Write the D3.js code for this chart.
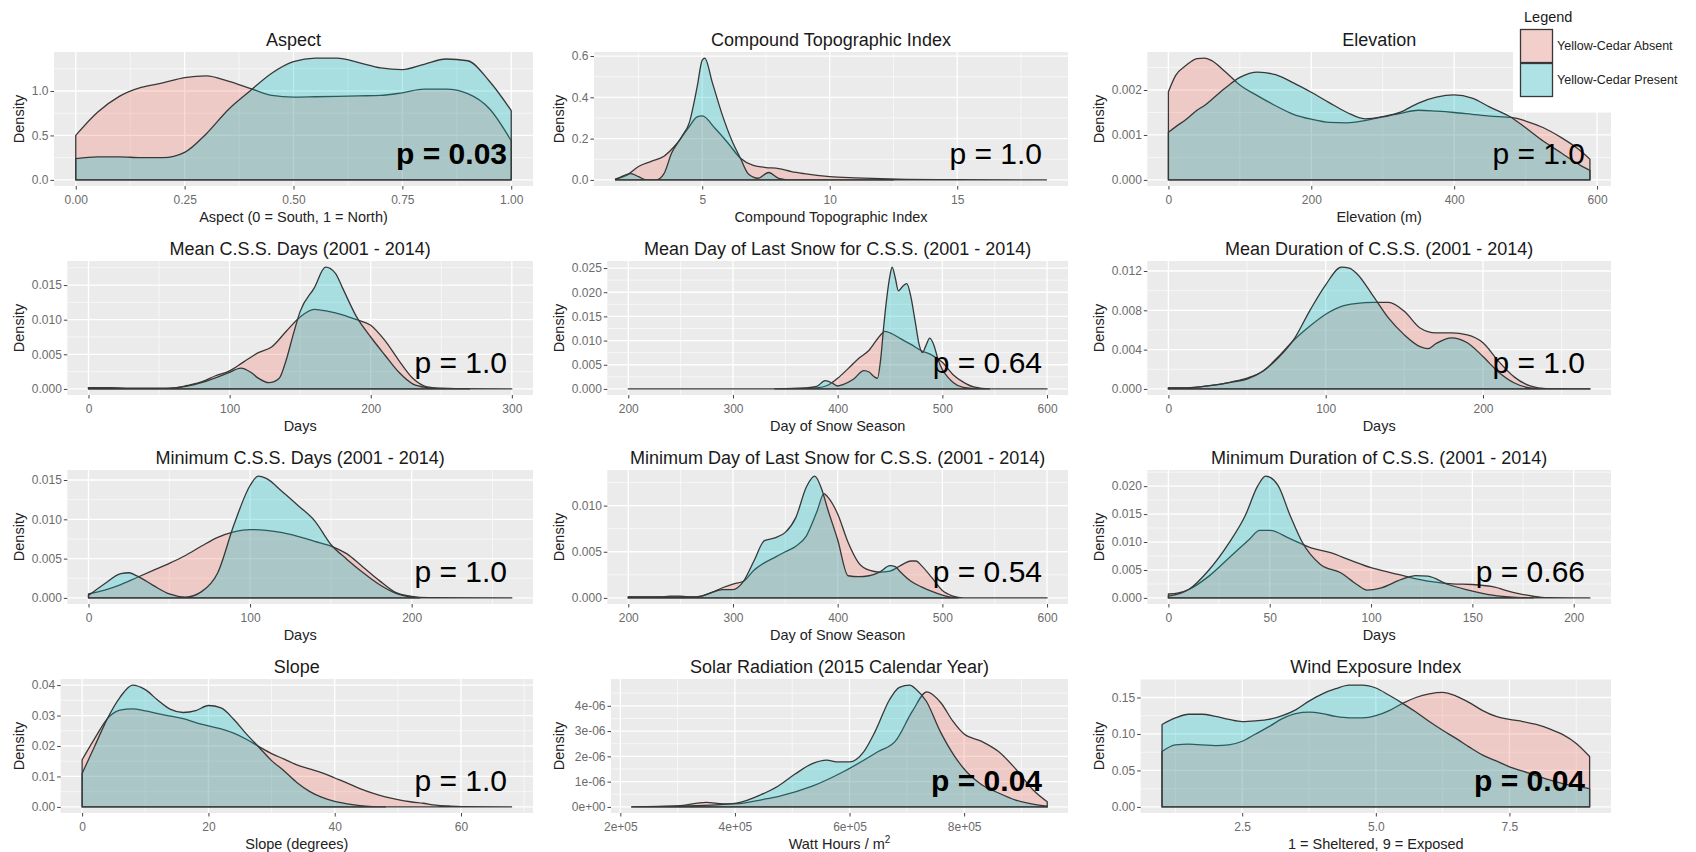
<!DOCTYPE html>
<html><head><meta charset="utf-8">
<script src="https://cdn.jsdelivr.net/npm/d3@7"></script>
<style>
body{margin:0;background:#fff;}
svg{display:block;font-family:"Liberation Sans",Arial,sans-serif;}
</style>
</head><body>
<svg id="chart" width="1696" height="852"></svg>
<script>
// ---------------- DATA ----------------
const panelTitles = ["Aspect","Compound Topographic Index","Elevation",
  "Mean C.S.S. Days (2001 - 2014)","Mean Day of Last Snow for C.S.S. (2001 - 2014)","Mean Duration of C.S.S. (2001 - 2014)",
  "Minimum C.S.S. Days (2001 - 2014)","Minimum Day of Last Snow for C.S.S. (2001 - 2014)","Minimum Duration of C.S.S. (2001 - 2014)",
  "Slope","Solar Radiation (2015 Calendar Year)","Wind Exposure Index"];
const xTitles = ["Aspect (0 = South, 1 = North)","Compound Topographic Index","Elevation (m)",
  "Days","Day of Snow Season","Days","Days","Day of Snow Season","Days",
  "Slope (degrees)","Watt Hours / m|2","1 = Sheltered, 9 = Exposed"];
const pTexts = ["p = 0.03","p = 1.0","p = 1.0","p = 1.0","p = 0.64","p = 1.0","p = 1.0","p = 0.54","p = 0.66","p = 1.0","p = 0.04","p = 0.04"];
const pBold = [true,false,false,false,false,false,false,false,false,false,true,true];
const seriesNames = ["Yellow-Cedar Absent","Yellow-Cedar Present"];
const legendTitle = "Legend";

// Aspect
const aspX = [0,0.05,0.1,0.15,0.2,0.25,0.3,0.35,0.4,0.45,0.5,0.55,0.6,0.65,0.7,0.75,0.8,0.85,0.9,0.95,1.0];
const aspAbsent = [0.50,0.76,0.94,1.04,1.09,1.15,1.17,1.11,1.03,0.95,0.93,0.935,0.94,0.945,0.95,0.98,1.02,1.02,0.97,0.80,0.44];
const aspPresent = [0.24,0.26,0.26,0.25,0.25,0.31,0.52,0.79,1.00,1.20,1.33,1.37,1.37,1.32,1.26,1.24,1.30,1.36,1.34,1.11,0.78];
const aspXTicks = [0,0.25,0.5,0.75,1], aspXLabels = ["0.00","0.25","0.50","0.75","1.00"];
const aspYTicks = [0,0.5,1], aspYLabels = ["0.0","0.5","1.0"];

// Compound Topographic Index
const ctiAbsX = [1.6,2,2.5,3,3.5,4,4.5,4.8,5,5.5,6,6.5,7,7.5,8,8.5,9,10,11,12,13,15,18.5];
const ctiAbsent = [0.005,0.02,0.065,0.09,0.115,0.175,0.26,0.305,0.31,0.25,0.18,0.105,0.07,0.06,0.055,0.04,0.03,0.016,0.01,0.006,0.003,0.001,0];
const ctiPreX = [1.6,1.9,2.2,2.5,2.8,3.2,3.5,3.8,4.2,4.5,4.8,5,5.1,5.4,5.8,6.2,6.5,6.8,7.2,7.6,8,8.5,12.5];
const ctiPresent = [0,0.02,0.03,0.016,0,0,0.03,0.13,0.21,0.28,0.45,0.58,0.59,0.47,0.31,0.18,0.105,0.03,0.008,0.036,0.008,0,0];
const ctiXTicks = [5,10,15], ctiXLabels = ["5","10","15"];
const ctiYTicks = [0,0.2,0.4,0.6], ctiYLabels = ["0.0","0.2","0.4","0.6"];

// Elevation
const elevX = [0,10,25,40,50,60,80,100,125,150,175,200,225,250,275,300,325,350,375,400,425,450,480,500,525,550,575,590];
const elevAbsent = [0.00196,0.00232,0.00255,0.0027,0.00271,0.00266,0.0024,0.00211,0.00187,0.00165,0.00146,0.00135,0.00128,0.00127,0.00132,0.0014,0.00148,0.00155,0.00153,0.0015,0.00146,0.00142,0.00139,0.00131,0.00116,0.00094,0.00067,0.00046];
const elevPresent = [0.00106,0.00118,0.00135,0.00155,0.00165,0.00178,0.00205,0.00228,0.0024,0.00234,0.00216,0.00195,0.00172,0.0015,0.00136,0.00141,0.00151,0.00171,0.00184,0.00189,0.00182,0.00162,0.00139,0.00116,0.00086,0.0006,0.00034,0.00021];
const elevXTicks = [0,200,400,600], elevXLabels = ["0","200","400","600"];
const elevYTicks = [0,0.001,0.002], elevYLabels = ["0.000","0.001","0.002"];

// Mean C.S.S. Days
const mcdAbsX = [0,15,30,50,60,70,80,90,100,110,120,130,140,150,160,170,180,190,200,210,220,230,240,250,260,300];
const mcdAbsent = [0.0002,0.0002,0.0001,0.0001,0.00015,0.0005,0.001,0.0019,0.0026,0.0039,0.0052,0.0061,0.0083,0.0104,0.0115,0.0112,0.0107,0.0100,0.0092,0.0070,0.0041,0.0015,0.0003,0.0001,0.00003,0];
const mcdPreX = [0,15,20,55,60,70,80,90,100,108,115,120,128,135,140,145,150,160,168,175,180,190,200,210,220,230,240,250,270];
const mcdPresent = [0.0002,0.0002,0,0,0.0001,0.0004,0.0009,0.0016,0.0024,0.0030,0.0024,0.0016,0.0009,0.0015,0.0041,0.0078,0.0112,0.0146,0.0176,0.0167,0.0146,0.0104,0.0075,0.0049,0.0024,0.0007,0.0002,0.00005,0];
const mcdXTicks = [0,100,200,300], mcdXLabels = ["0","100","200","300"];
const mcdYTicks = [0,0.005,0.01,0.015], mcdYLabels = ["0.000","0.005","0.010","0.015"];

// Mean Day of Last Snow
const mdlAbsX = [200,340,370,380,390,400,410,420,430,440,445,450,460,470,480,490,500,510,520,530,545,600];
const mdlAbsent = [0,0,0.0001,0.0002,0.0007,0.0022,0.0042,0.0063,0.008,0.0109,0.0119,0.0116,0.0104,0.0092,0.0079,0.0070,0.0055,0.003,0.0014,0.0004,0,0];
const mdlPreX = [340,370,380,388,395,400,405,415,425,430,435,438,441,444,447,450,452,455,458,462,466,470,474,478,481,484,488,492,496,500,505,510,520,530,545];
const mdlPresent = [0,0.0002,0.0005,0.0017,0.0012,0.0006,0.0009,0.002,0.0038,0.0035,0.0025,0.0022,0.006,0.013,0.019,0.0235,0.0252,0.023,0.0203,0.0212,0.0218,0.019,0.014,0.009,0.0075,0.0088,0.0105,0.009,0.006,0.004,0.0025,0.0014,0.0003,0.0001,0];
const mdlXTicks = [200,300,400,500,600], mdlXLabels = ["200","300","400","500","600"];
const mdlYTicks = [0,0.005,0.01,0.015,0.02,0.025], mdlYLabels = ["0.000","0.005","0.010","0.015","0.020","0.025"];

// Mean Duration of C.S.S.
const mduAbsX = [0,10,20,30,40,50,60,70,80,90,100,110,120,130,140,150,160,170,180,190,200,210,220,230,240,268];
const mduAbsent = [0.0001,0.0001,0.0002,0.0004,0.0007,0.0011,0.0018,0.0033,0.005,0.0064,0.0076,0.0084,0.0087,0.0088,0.0088,0.0079,0.0062,0.0057,0.0057,0.0055,0.0047,0.0028,0.0012,0.0003,0.00002,0];
const mduPreX = [0,10,20,30,40,50,60,70,80,90,100,110,115,120,130,140,150,160,165,170,180,190,200,210,220,230,240,268];
const mduPresent = [0.0001,0.0001,0.0002,0.0004,0.0007,0.001,0.0018,0.0032,0.0051,0.0080,0.0106,0.0124,0.0123,0.0117,0.0095,0.0072,0.0055,0.0043,0.0041,0.0046,0.0052,0.0047,0.0033,0.0017,0.0006,0.0001,0,0];
const mduXTicks = [0,100,200], mduXLabels = ["0","100","200"];
const mduYTicks = [0,0.004,0.008,0.012], mduYLabels = ["0.000","0.004","0.008","0.012"];

// Minimum C.S.S. Days
const mcsAbsX = [0,10,20,30,40,50,60,70,80,90,100,110,120,130,140,150,160,170,180,190,200,210,262];
const mcsAbsent = [0.0005,0.0010,0.0017,0.0026,0.0035,0.0044,0.0054,0.0066,0.0077,0.0084,0.0087,0.0086,0.0083,0.0078,0.0072,0.0066,0.0056,0.0039,0.0022,0.0007,0.0002,0.00003,0];
const mcsPreX = [0,10,20,25,30,40,50,60,70,80,90,100,105,110,120,130,140,150,160,170,180,190,200,205];
const mcsPresent = [0.0003,0.0018,0.0031,0.0032,0.0028,0.0016,0.0005,0.0001,0.0008,0.0032,0.0093,0.0143,0.0155,0.0152,0.0135,0.0117,0.0098,0.0068,0.0049,0.0032,0.0017,0.0006,0.0001,0];
const mcsXTicks = [0,100,200], mcsXLabels = ["0","100","200"];
const mcsYTicks = [0,0.005,0.01,0.015], mcsYLabels = ["0.000","0.005","0.010","0.015"];

// Minimum Day of Last Snow
const mdsAbsX = [200,230,240,250,260,270,280,290,300,310,320,330,340,350,360,370,380,387,390,400,410,420,430,440,450,460,470,475,480,490,500,510,520,600];
const mdsAbsent = [0.0001,0.0001,0.0002,0.0002,0.0001,0.0002,0.0006,0.0011,0.0015,0.0018,0.0030,0.0038,0.0044,0.0050,0.0056,0.0067,0.0093,0.0113,0.0110,0.0091,0.0060,0.0038,0.0030,0.0028,0.0029,0.0035,0.0040,0.0040,0.0035,0.0022,0.0008,0.0002,0,0];
const mdsPreX = [200,260,270,280,290,300,310,320,330,340,350,360,370,378,385,390,400,410,420,430,440,450,455,460,470,480,490,500,510,515];
const mdsPresent = [0.0001,0.0001,0.0002,0.0006,0.0009,0.0009,0.0018,0.0040,0.0062,0.0065,0.0071,0.0087,0.0120,0.0132,0.0117,0.0098,0.0063,0.0024,0.0023,0.0024,0.0028,0.0035,0.0034,0.0028,0.0018,0.0012,0.0007,0.0003,0.00005,0];
const mdsXTicks = [200,300,400,500,600], mdsXLabels = ["200","300","400","500","600"];
const mdsYTicks = [0,0.005,0.01], mdsYLabels = ["0.000","0.005","0.010"];

// Minimum Duration of C.S.S.
const mndAbsX = [0,5,10,20,30,40,45,50,60,70,80,90,100,110,120,130,140,150,160,170,180,187,208];
const mndAbsent = [0.0007,0.0009,0.0015,0.0039,0.0072,0.0105,0.0121,0.0121,0.0106,0.0090,0.0081,0.0067,0.0054,0.0045,0.0036,0.0029,0.0025,0.0024,0.0020,0.0010,0.0003,0.00005,0];
const mndPreX = [0,10,20,30,38,44,48,54,60,66,75,85,93,98,105,115,122,128,138,148,158,168,180];
const mndPresent = [0.0003,0.0015,0.0050,0.0099,0.0148,0.0200,0.0218,0.0202,0.0148,0.0100,0.0060,0.0045,0.0024,0.0014,0.0018,0.0033,0.0040,0.0039,0.0024,0.0014,0.0006,0.0002,0];
const mndXTicks = [0,50,100,150,200], mndXLabels = ["0","50","100","150","200"];
const mndYTicks = [0,0.005,0.01,0.015,0.02], mndYLabels = ["0.000","0.005","0.010","0.015","0.020"];

// Slope
const slpAbsX = [0,2,4,6,8,10,12,14,16,18,20,22,24,26,28,30,32,34,36,38,40,42,44,46,48,50,52,54,56,58,60,68];
const slpAbsent = [0.0155,0.0225,0.029,0.0318,0.0322,0.0315,0.0306,0.0298,0.029,0.0277,0.0266,0.0256,0.0242,0.0222,0.0198,0.0175,0.0157,0.0138,0.0125,0.0112,0.0095,0.0078,0.006,0.0045,0.0033,0.0024,0.0017,0.0012,0.0006,0.0003,0.0001,0];
const slpPreX = [0,2,4,6,8,10,12,14,16,18,20,22,24,26,28,30,32,34,36,38,40,42,44,46,48];
const slpPresent = [0.011,0.020,0.029,0.036,0.040,0.0385,0.035,0.032,0.031,0.0316,0.0333,0.0325,0.0288,0.024,0.0196,0.0152,0.0118,0.008,0.0051,0.0031,0.0018,0.001,0.0004,0.0001,0];
const slpXTicks = [0,20,40,60], slpXLabels = ["0","20","40","60"];
const slpYTicks = [0,0.01,0.02,0.03,0.04], slpYLabels = ["0.00","0.01","0.02","0.03","0.04"];

// Solar Radiation
const solAbsX = [2.2e5,3.0e5,3.5e5,3.8e5,4.0e5,4.5e5,4.75e5,5.35e5,5.9e5,6.5e5,6.8e5,7.1e5,7.35e5,7.6e5,7.8e5,8.0e5,8.3e5,8.6e5,8.9e5,9.2e5,9.45e5];
const solAbsent = [0,0.04e-6,0.18e-6,0.12e-6,0.12e-6,0.3e-6,0.41e-6,0.82e-6,1.4e-6,2.19e-6,2.6e-6,3.8e-6,4.55e-6,4.1e-6,3.4e-6,2.88e-6,2.6e-6,2.19e-6,1.5e-6,0.68e-6,0.2e-6];
const solPreX = [2.2e5,3.6e5,4.05e5,4.45e5,4.75e5,5.05e5,5.35e5,5.6e5,5.8e5,6.0e5,6.25e5,6.45e5,6.7e5,6.87e5,7.05e5,7.16e5,7.34e5,7.58e5,7.82e5,8.05e5,8.3e5,8.6e5,8.9e5,9.2e5,9.45e5];
const solPresent = [0,0.07e-6,0.16e-6,0.48e-6,0.82e-6,1.3e-6,1.71e-6,1.85e-6,1.78e-6,1.78e-6,2.19e-6,3.0e-6,4.25e-6,4.73e-6,4.82e-6,4.66e-6,4.18e-6,3.0e-6,2.05e-6,1.37e-6,0.89e-6,0.55e-6,0.27e-6,0.11e-6,0.03e-6];
const solXTicks = [2e5,4e5,6e5,8e5], solXLabels = ["2e+05","4e+05","6e+05","8e+05"];
const solYTicks = [0,1e-6,2e-6,3e-6,4e-6], solYLabels = ["0e+00","1e-06","2e-06","3e-06","4e-06"];

// Wind Exposure Index
const windX = [1,1.25,1.5,1.75,2,2.25,2.5,2.75,3,3.25,3.5,3.75,4,4.25,4.5,4.75,5,5.25,5.5,5.75,6,6.25,6.5,6.75,7,7.25,7.5,7.75,8,8.25,8.5,8.75,9];
const windAbsent = [0.076,0.085,0.086,0.085,0.084,0.085,0.09,0.10,0.11,0.121,0.128,0.13,0.128,0.124,0.122,0.122,0.125,0.132,0.142,0.15,0.155,0.157,0.152,0.143,0.132,0.124,0.12,0.117,0.113,0.107,0.099,0.087,0.069];
const windPresent = [0.113,0.122,0.127,0.127,0.124,0.12,0.117,0.118,0.12,0.125,0.133,0.145,0.155,0.162,0.167,0.167,0.163,0.153,0.142,0.13,0.117,0.105,0.094,0.082,0.071,0.063,0.055,0.049,0.043,0.037,0.032,0.028,0.025];
const windXTicks = [2.5,5,7.5], windXLabels = ["2.5","5.0","7.5"];
const windYTicks = [0,0.05,0.1,0.15], windYLabels = ["0.00","0.05","0.10","0.15"];

// ---------------- PANEL TABLE ----------------
const panels = [
  {ax:aspX, a:aspAbsent, px:aspX, p:aspPresent, xt:aspXTicks, xl:aspXLabels, yt:aspYTicks, yl:aspYLabels},
  {ax:ctiAbsX, a:ctiAbsent, px:ctiPreX, p:ctiPresent, xt:ctiXTicks, xl:ctiXLabels, yt:ctiYTicks, yl:ctiYLabels},
  {ax:elevX, a:elevAbsent, px:elevX, p:elevPresent, xt:elevXTicks, xl:elevXLabels, yt:elevYTicks, yl:elevYLabels},
  {ax:mcdAbsX, a:mcdAbsent, px:mcdPreX, p:mcdPresent, xt:mcdXTicks, xl:mcdXLabels, yt:mcdYTicks, yl:mcdYLabels},
  {ax:mdlAbsX, a:mdlAbsent, px:mdlPreX, p:mdlPresent, xt:mdlXTicks, xl:mdlXLabels, yt:mdlYTicks, yl:mdlYLabels},
  {ax:mduAbsX, a:mduAbsent, px:mduPreX, p:mduPresent, xt:mduXTicks, xl:mduXLabels, yt:mduYTicks, yl:mduYLabels},
  {ax:mcsAbsX, a:mcsAbsent, px:mcsPreX, p:mcsPresent, xt:mcsXTicks, xl:mcsXLabels, yt:mcsYTicks, yl:mcsYLabels},
  {ax:mdsAbsX, a:mdsAbsent, px:mdsPreX, p:mdsPresent, xt:mdsXTicks, xl:mdsXLabels, yt:mdsYTicks, yl:mdsYLabels},
  {ax:mndAbsX, a:mndAbsent, px:mndPreX, p:mndPresent, xt:mndXTicks, xl:mndXLabels, yt:mndYTicks, yl:mndYLabels},
  {ax:slpAbsX, a:slpAbsent, px:slpPreX, p:slpPresent, xt:slpXTicks, xl:slpXLabels, yt:slpYTicks, yl:slpYLabels},
  {ax:solAbsX, a:solAbsent, px:solPreX, p:solPresent, xt:solXTicks, xl:solXLabels, yt:solYTicks, yl:solYLabels},
  {ax:windX, a:windAbsent, px:windX, p:windPresent, xt:windXTicks, xl:windXLabels, yt:windYTicks, yl:windYLabels}
];

// ---------------- LAYOUT / STYLE ----------------
const FONT = '"Liberation Sans", Arial, sans-serif';
const colCellLeft = [0, 540, 1080];
const colRight = [533, 1068, 1611];
const rowTop = [52, 261, 470, 679];
const panelH = 134;
const fillColors = ["#F8766D", "#00BFC4"];
const fillAlpha = 0.28;
const outline = "#383838";

const svg = d3.select("#chart");
svg.append("rect").attr("width",1696).attr("height",852).attr("fill","#fff");

const meas = svg.append("text").attr("font-size",12).style("font-family",FONT);
function tw(s){ meas.text(s); return meas.node().getComputedTextLength(); }

function minorBreaks(ticks, dom){
  const out = [];
  const step = ticks.length>1 ? ticks[1]-ticks[0] : 0;
  const all = [ticks[0]-step/2];
  for (let i=0;i<ticks.length-1;i++) all.push((ticks[i]+ticks[i+1])/2);
  all.push(ticks[ticks.length-1]+step/2);
  all.forEach(v => { if (v>dom[0] && v<dom[1]) out.push(v); });
  return out;
}

panels.forEach((P, i) => {
  const col = i % 3, row = Math.floor(i / 3);
  const top = rowTop[row], bottom = top + panelH;
  const labW = d3.max(P.yl, s => tw(s));
  const left = colCellLeft[col] + 31.8 + labW + 5.5;
  const right = colRight[col];

  const allX = P.ax.concat(P.px);
  const xmin = d3.min(allX), xmax = d3.max(allX);
  const xpad = 0.05 * (xmax - xmin);
  const x = d3.scaleLinear().domain([xmin - xpad, xmax + xpad]).range([left, right]);
  const ymax = d3.max(P.a.concat(P.p));
  const y = d3.scaleLinear().domain([-0.05 * ymax, 1.05 * ymax]).range([bottom, top]);

  const g = svg.append("g");
  g.append("rect").attr("x",left).attr("y",top).attr("width",right-left).attr("height",panelH).attr("fill","#EBEBEB");

  minorBreaks(P.xt, x.domain()).forEach(v => g.append("line").attr("x1",x(v)).attr("x2",x(v)).attr("y1",top).attr("y2",bottom).attr("stroke","#fff").attr("stroke-width",0.6));
  minorBreaks(P.yt, y.domain()).forEach(v => g.append("line").attr("x1",left).attr("x2",right).attr("y1",y(v)).attr("y2",y(v)).attr("stroke","#fff").attr("stroke-width",0.6));
  P.xt.forEach(v => g.append("line").attr("x1",x(v)).attr("x2",x(v)).attr("y1",top).attr("y2",bottom).attr("stroke","#fff").attr("stroke-width",1.3));
  P.yt.forEach(v => g.append("line").attr("x1",left).attr("x2",right).attr("y1",y(v)).attr("y2",y(v)).attr("stroke","#fff").attr("stroke-width",1.3));

  const area = d3.area().x(d => x(d[0])).y0(y(0)).y1(d => y(d[1])).curve(d3.curveMonotoneX);
  [[P.ax, P.a], [P.px, P.p]].forEach((s, k) => {
    const pts = s[0].map((xv, j) => [xv, s[1][j]]);
    g.append("path").attr("d", area(pts))
      .attr("fill", fillColors[k]).attr("fill-opacity", fillAlpha)
      .attr("stroke", outline).attr("stroke-width", 1.3).attr("stroke-linejoin","round");
  });

  const ax = g.append("g").attr("transform", `translate(0,${bottom})`)
    .call(d3.axisBottom(x).tickValues(P.xt).tickFormat((d, j) => P.xl[j]).tickSize(3.5).tickPadding(5.5));
  const ay = g.append("g").attr("transform", `translate(${left},0)`)
    .call(d3.axisLeft(y).tickValues(P.yt).tickFormat((d, j) => P.yl[j]).tickSize(3.5).tickPadding(2));
  [ax, ay].forEach(a => {
    a.select(".domain").remove();
    a.selectAll(".tick line").attr("stroke", "#444").attr("stroke-width", 1);
    a.selectAll(".tick text").attr("fill", "#6b6b6b").style("font-size", "12px").style("font-family", FONT);
  });

  g.append("text").attr("x", (left + right) / 2).attr("y", top - 6.4)
    .attr("text-anchor", "middle").attr("fill", "#1a1a1a").style("font-size", "18px").text(panelTitles[i]);
  const xt = g.append("text").attr("x", (left + right) / 2).attr("y", bottom + 35.7)
    .attr("text-anchor", "middle").attr("fill", "#222").style("font-size", "14.5px");
  const parts = xTitles[i].split("|");
  xt.append("tspan").text(parts[0]);
  if (parts.length > 1) xt.append("tspan").attr("dy", -6).style("font-size", "10px").text(parts[1]);
  g.append("text").attr("transform", `translate(${colCellLeft[col] + 18.5},${(top + bottom) / 2}) rotate(-90)`)
    .attr("text-anchor", "middle").attr("dominant-baseline", "central")
    .attr("fill", "#222").style("font-size", "14.5px").text("Density");
  g.append("text").attr("x", right - 26).attr("y", top + 112)
    .attr("text-anchor", "end").attr("fill", "#000")
    .style("font-size", "30px").style("font-weight", pBold[i] ? "bold" : "normal").text(pTexts[i]);
});
meas.remove();

// ---------------- LEGEND ----------------
const lg = svg.append("g");
lg.append("rect").attr("x",1513).attr("y",0).attr("width",183).attr("height",112).attr("fill","#fff");
lg.append("text").attr("x",1524).attr("y",22).attr("fill","#1a1a1a").style("font-size","14.5px").text(legendTitle);
seriesNames.forEach((nm, k) => {
  const ky = 29 + k * 34;
  lg.append("rect").attr("x",1520).attr("y",ky).attr("width",33).attr("height",34).attr("fill","#F2F2F2");
  lg.append("rect").attr("x",1520.5).attr("y",ky+0.5).attr("width",32).attr("height",33)
    .attr("fill",fillColors[k]).attr("fill-opacity",fillAlpha).attr("stroke",outline).attr("stroke-width",1.3);
  lg.append("text").attr("x",1557).attr("y",ky + 17).attr("dominant-baseline","central")
    .attr("fill","#222").style("font-size","12.5px").text(nm);
});
</script>
</body></html>
